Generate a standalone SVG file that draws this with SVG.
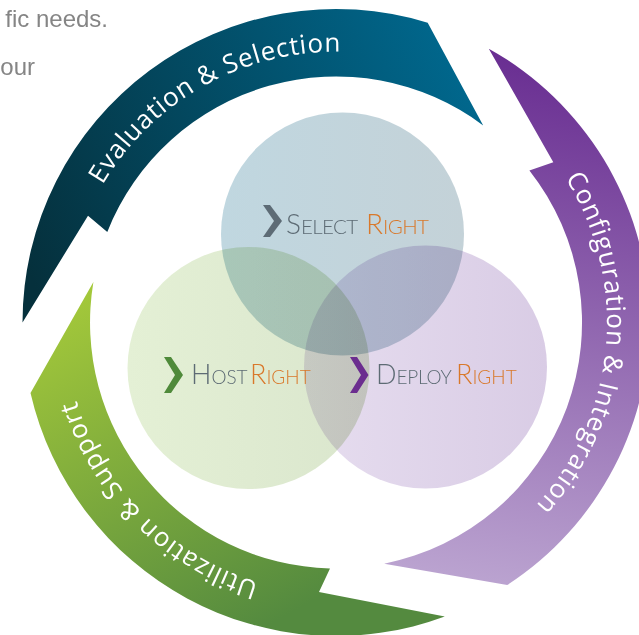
<svg xmlns="http://www.w3.org/2000/svg" width="639" height="635" viewBox="0 0 639 635">
<defs>
<style>
.arc{font-family:"Open Sans","Liberation Sans",sans-serif;font-size:26px;letter-spacing:0.8px;fill:#fff}
.big{font-family:Lato,"Open Sans",sans-serif;font-weight:300}
.g{fill:#5d6b74}.o{fill:#d9782a}
.bg{font-family:"Liberation Sans",Arial,sans-serif;font-size:24px;fill:#858585}
.c{mix-blend-mode:multiply}
</style>
<linearGradient id="gTeal" gradientUnits="userSpaceOnUse" x1="20" y1="250" x2="485" y2="60">
<stop offset="0" stop-color="#05303c"/><stop offset="1" stop-color="#006a91"/></linearGradient>
<linearGradient id="gPur" gradientUnits="userSpaceOnUse" x1="560" y1="50" x2="470" y2="590">
<stop offset="0" stop-color="#672b90"/><stop offset="1" stop-color="#bca5d1"/></linearGradient>
<linearGradient id="gGrn" gradientUnits="userSpaceOnUse" x1="60" y1="285" x2="250" y2="635">
<stop offset="0" stop-color="#a7cb3a"/><stop offset="1" stop-color="#548a3f"/></linearGradient>
<linearGradient id="gSel" x1="0" y1="0" x2="1" y2="0">
<stop offset="0" stop-color="#c0d7e0"/><stop offset="1" stop-color="#c4d2d8"/></linearGradient>
<linearGradient id="gHost" x1="0" y1="0" x2="1" y2="0">
<stop offset="0" stop-color="#e4f0d5"/><stop offset="1" stop-color="#dae6cd"/></linearGradient>
<linearGradient id="gDep" x1="0" y1="0" x2="1" y2="0">
<stop offset="0" stop-color="#e6ddef"/><stop offset="1" stop-color="#d9cce5"/></linearGradient>
<path id="tpTeal" d="M88.8,433.6 A271,271 0 0 1 560.1,170.2"/>
<path id="tpPur" d="M384.0,55.8 A271,271 0 0 1 335.1,593.5"/>
<path id="tpGrn" d="M510.2,530.1 A271,271 0 0 1 128.4,148.3"/>
</defs>
<rect width="639" height="635" fill="#fff"/>
<g id="bgtext">
<text class="bg" x="108" y="27" text-anchor="end">fic needs.</text>
<text class="bg" x="35" y="75" text-anchor="end">our</text>
</g>
<g id="circles">
<g id="select"><circle class="c" cx="342.5" cy="234" r="121.5" fill="url(#gSel)"/></g>
<g id="host"><circle class="c" cx="248.5" cy="368" r="121" fill="url(#gHost)"/></g>
<g id="deploy"><circle class="c" cx="425.5" cy="367" r="121.5" fill="url(#gDep)"/></g>
</g>
<g id="labels">
<g id="selectLabel">
<polygon points="263,205 270,205 282,221 270,237 263,237 274,221" fill="#5d6b75"/>
<text class="big" x="286" y="234"><tspan class="g" font-size="28">S</tspan><tspan class="g" font-size="20.5" letter-spacing="-0.6">ELECT</tspan><tspan class="o" x="366" font-size="28">R</tspan><tspan class="o" font-size="20.5" letter-spacing="-0.6">IGHT</tspan></text>
</g>
<g id="hostLabel">
<polygon points="164,357 171,357 183,375 171,393 164,393 175,375" fill="#4f8a3a"/>
<text class="big" x="191" y="384"><tspan class="g" font-size="27">H</tspan><tspan class="g" font-size="19">OST</tspan><tspan class="o" x="250" font-size="27">R</tspan><tspan class="o" font-size="19">IGHT</tspan></text>
</g>
<g id="deployLabel">
<polygon points="350,357 357,357 368.5,375 357,393 350,393 361,375" fill="#6b2d8f"/>
<text class="big" x="376" y="384"><tspan class="g" font-size="27">D</tspan><tspan class="g" font-size="19" letter-spacing="-0.3">EPLOY</tspan><tspan class="o" x="456" font-size="27">R</tspan><tspan class="o" font-size="19">IGHT</tspan></text>
</g>
</g>
<g id="connectors">
<g id="evaluation">
<path d="M22.5,322.5 A313.5,313.5 0 0 1 427.7,22.7 L483.2,125.4 A246,246 0 0 0 107.3,231.9 L88,215.7 Z" fill="url(#gTeal)"/>
<text class="arc"><textPath href="#tpTeal" startOffset="50%" text-anchor="middle">Evaluation &amp; Selection</textPath></text>
</g>
<g id="configuration">
<path d="M488.8,48.7 A313.5,313.5 0 0 1 507.2,585.1 L384.2,563.7 A246,246 0 0 0 529.4,170.4 L553.3,162.3 Z" fill="url(#gPur)"/>
<text class="arc"><textPath href="#tpPur" startOffset="50%" text-anchor="middle">Configuration &amp; Integration</textPath></text>
</g>
<g id="utilization">
<path d="M444.8,616.5 A313.5,313.5 0 0 1 30.5,393 L93.4,281.9 A246,246 0 0 0 330,568.4 L319,592 Z" fill="url(#gGrn)"/>
<text class="arc"><textPath href="#tpGrn" startOffset="50%" text-anchor="middle">Utilization &amp; Support</textPath></text>
</g>
</g>
</svg>
